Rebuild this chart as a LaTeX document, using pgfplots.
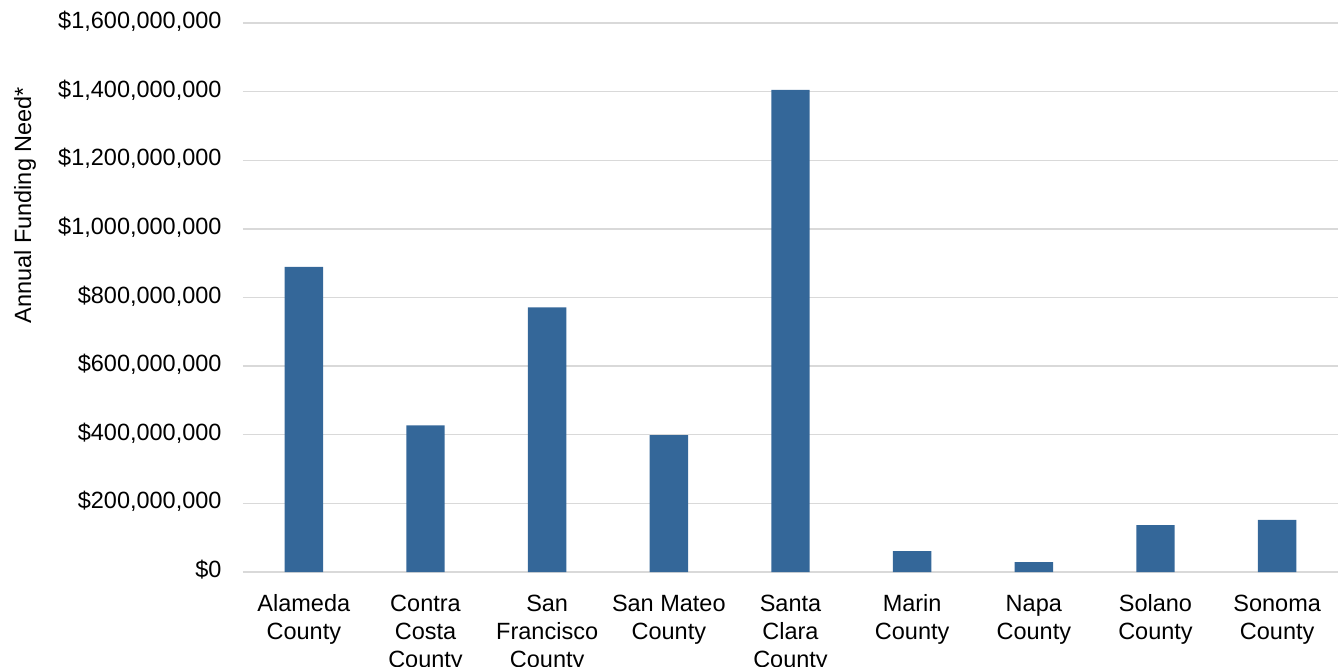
\documentclass[border=0pt]{standalone}
\usepackage{fontspec}
\setmainfont{Liberation Sans}
\usepackage{pgfplots}
\pgfplotsset{compat=1.18}
\definecolor{barblue}{RGB}{52,103,153}
\definecolor{gridgray}{RGB}{217,217,217}
\begin{document}
\fontsize{11.75}{14}\selectfont
\begin{tikzpicture}
\begin{axis}[
  scale only axis, width=547.5pt, height=274.5pt,
  xmin=-0.5, xmax=8.5, ymin=0, ymax=1600000000,
  scaled y ticks=false,
  axis line style={draw=none},
  major tick length=0pt,
  ymajorgrids, grid style={draw=gridgray, line width=0.65pt},
  ytick={0,200000000,400000000,600000000,800000000,1000000000,1200000000,1400000000,1600000000},
  yticklabels={{\$0},{\$200,000,000},{\$400,000,000},{\$600,000,000},{\$800,000,000},{\$1,000,000,000},{\$1,200,000,000},{\$1,400,000,000},{\$1,600,000,000}},
  yticklabel style={anchor=east, xshift=-6.6pt, font=\fontsize{11.75}{14}\selectfont},
  xtick={0,...,8},
  typeset ticklabels with strut,
  xticklabels={{Alameda\\County},{Contra\\Costa\\County},{San\\Francisco\\County},{San Mateo\\County},{Santa\\Clara\\County},{Marin\\County},{Napa\\County},{Solano\\County},{Sonoma\\County}},
  xticklabel style={align=center, anchor=north, yshift=-6pt, font=\fontsize{11.75}{14}\selectfont},
  ybar, bar width=19.2pt,
]
\addplot[fill=barblue, draw=none] coordinates {
  (0,889000000) (1,427000000) (2,771000000) (3,399000000) (4,1405000000)
  (5,61000000) (6,29000000) (7,137000000) (8,152000000)
};
\end{axis}
\node[rotate=90, font=\fontsize{11.75}{14}\selectfont] at (-109pt,183.4pt) {Annual Funding Need*};
\pgfresetboundingbox
\path (-121.5pt,-47pt) rectangle (547.5pt,286pt);
\end{tikzpicture}
\end{document}
